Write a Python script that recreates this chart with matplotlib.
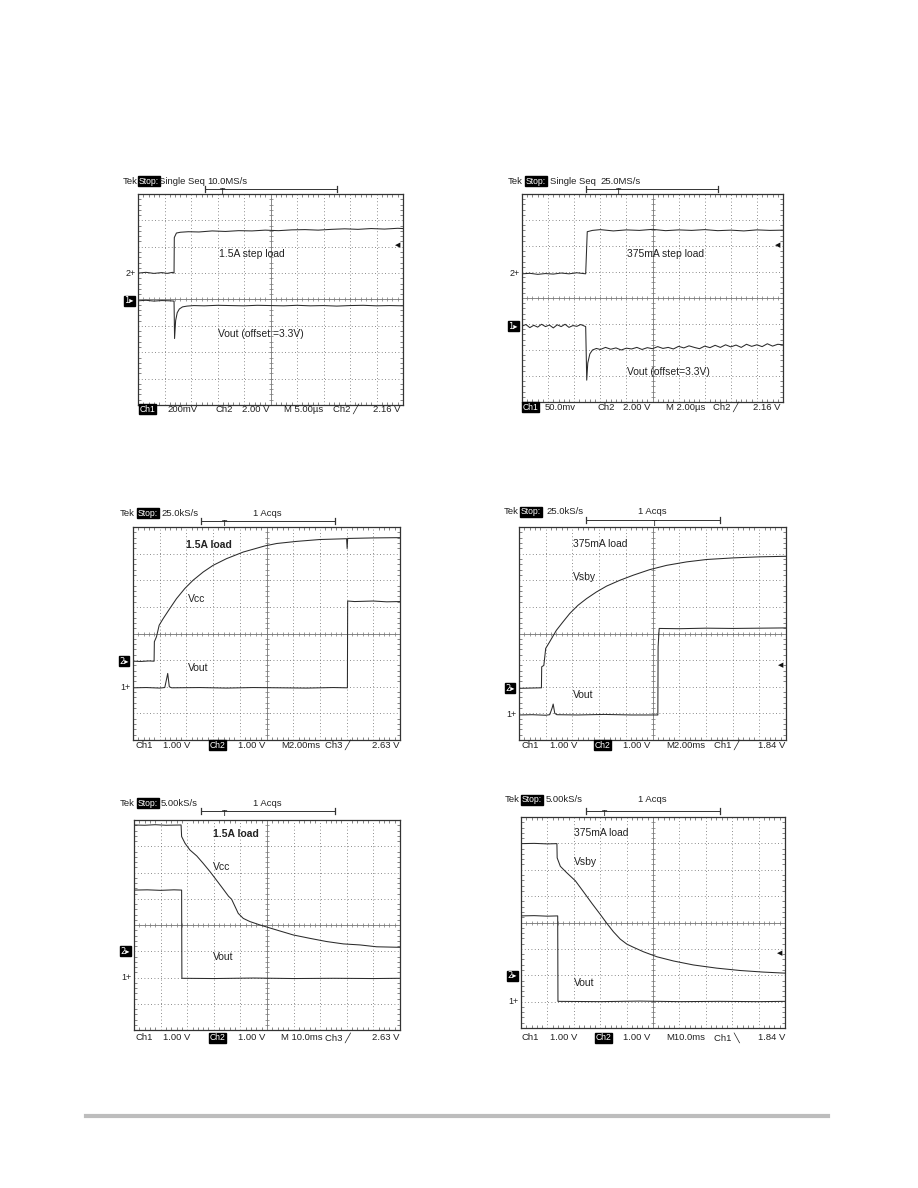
import numpy as np
import matplotlib.pyplot as plt

plt.rcParams['font.family'] = ['Liberation Sans', 'DejaVu Sans']

W, H = 918, 1188
TRACE = '#2b2b2b'

# ---- panel 1: 1.5A step load (divisions, x 0..10, y 0..8)
p1_step_t = [0, 0.3, 0.6, 0.9, 1.1, 1.3, 1.36, 1.37, 1.45, 1.6, 1.9, 2.3, 2.8, 3.3, 3.8, 4.3, 4.8, 5.3, 5.8, 6.3, 6.8, 7.3, 7.8, 8.3, 8.8, 9.3, 9.8, 10]
p1_step_v = [5.0, 5.03, 4.99, 5.02, 4.99, 5.03, 5.0, 6.35, 6.52, 6.55, 6.57, 6.56, 6.6, 6.58, 6.61, 6.6, 6.63, 6.61, 6.64, 6.65, 6.63, 6.66, 6.68, 6.66, 6.69, 6.67, 6.7, 6.69]
p1_vout_t = [0, 0.3, 0.6, 0.9, 1.2, 1.36, 1.38, 1.42, 1.48, 1.56, 1.68, 1.85, 2.1, 2.5, 3.0, 3.5, 4.0, 4.5, 5.0, 5.5, 6.0, 6.5, 7.0, 7.5, 8.0, 8.5, 9.0, 9.5, 10]
p1_vout_v = [3.95, 3.97, 3.94, 3.96, 3.95, 3.94, 2.52, 3.2, 3.5, 3.64, 3.72, 3.75, 3.77, 3.76, 3.78, 3.77, 3.76, 3.78, 3.77, 3.76, 3.78, 3.76, 3.77, 3.75, 3.77, 3.78, 3.76, 3.77, 3.76]

# ---- panel 2: 375mA step load
p2_step_t = [0, 0.3, 0.6, 0.9, 1.2, 1.5, 1.8, 2.1, 2.44, 2.5, 2.7, 3.0, 3.5, 4.0, 4.5, 5.0, 5.5, 6.0, 6.5, 7.0, 7.5, 8.0, 8.5, 9.0, 9.5, 10]
p2_step_v = [4.93, 4.95, 4.91, 4.94, 4.92, 4.96, 4.93, 4.97, 4.93, 6.55, 6.6, 6.63, 6.58, 6.62, 6.6, 6.64, 6.59, 6.62, 6.6, 6.63, 6.59, 6.61, 6.58, 6.62, 6.6, 6.61]
p2_vout_t = [0, 0.15, 0.3, 0.45, 0.6, 0.75, 0.9, 1.05, 1.2, 1.35, 1.5, 1.65, 1.8, 1.95, 2.1, 2.25, 2.44, 2.48, 2.52, 2.6, 2.7, 2.85, 3.0, 3.2, 3.4, 3.6, 3.8, 4.0, 4.2, 4.4, 4.6, 4.8, 5.0, 5.2, 5.4, 5.6, 5.8, 6.0, 6.2, 6.4, 6.6, 6.8, 7.0, 7.2, 7.4, 7.6, 7.8, 8.0, 8.2, 8.4, 8.6, 8.8, 9.0, 9.2, 9.4, 9.6, 9.8, 10]
p2_vout_v = [2.92, 2.98, 2.86, 2.95, 2.88, 2.99, 2.9, 2.96, 2.85, 2.97, 2.9, 2.99, 2.87, 2.94, 2.91, 2.98, 2.9, 0.84, 1.5, 1.85, 2.0, 2.06, 2.02, 2.1, 2.03, 2.08, 2.0, 2.07, 2.04, 2.1, 2.02, 2.09, 2.05, 2.13, 2.06, 2.1, 2.04, 2.14, 2.08, 2.16, 2.1, 2.05, 2.15, 2.09, 2.18, 2.1, 2.2, 2.12, 2.19, 2.1, 2.22, 2.14, 2.2, 2.13, 2.24, 2.15, 2.22, 2.2]

# ---- panel 3: turn-on, 1.5A load
p3_vcc_t = [0, 0.3, 0.6, 0.79, 0.8, 0.88, 0.98, 1.13, 1.38, 1.63, 1.94, 2.25, 2.63, 3.0, 3.5, 4.13, 4.94, 5.38, 6.13, 7.0, 8.0, 8.02, 8.04, 9.0, 10]
p3_vcc_v = [2.96, 2.95, 2.97, 2.96, 3.69, 3.88, 4.31, 4.56, 4.94, 5.31, 5.69, 6.0, 6.31, 6.56, 6.81, 7.06, 7.29, 7.38, 7.46, 7.53, 7.56, 7.19, 7.57, 7.59, 7.6]
p3_vout_t = [0, 0.5, 1.0, 1.19, 1.27, 1.3, 1.36, 1.45, 2.5, 3.5, 4.5, 5.5, 6.5, 7.5, 8.03, 8.04, 8.3, 9.0, 9.5, 10]
p3_vout_v = [1.96, 1.97, 1.95, 1.97, 2.35, 2.5, 2.0, 1.96, 1.97, 1.95, 1.97, 1.96, 1.95, 1.97, 1.96, 5.22, 5.2, 5.22, 5.19, 5.2]

# ---- panel 4: turn-on, 375mA load
p4_vsby_t = [0, 0.4, 0.84, 0.85, 0.93, 1.0, 1.15, 1.4, 1.65, 1.9, 2.21, 2.53, 2.9, 3.28, 3.78, 4.28, 4.9, 5.53, 6.28, 7.03, 8.03, 9.03, 10]
p4_vsby_v = [1.94, 1.95, 1.96, 2.75, 2.8, 3.44, 3.69, 4.12, 4.44, 4.75, 5.06, 5.31, 5.56, 5.78, 6.0, 6.19, 6.4, 6.56, 6.69, 6.78, 6.84, 6.88, 6.9]
p4_vout_t = [0, 0.5, 1.0, 1.15, 1.24, 1.28, 1.34, 1.42, 2.2, 3.2, 4.2, 5.2, 5.21, 5.25, 6.0, 7.0, 8.0, 9.0, 10]
p4_vout_v = [0.94, 0.95, 0.93, 0.95, 1.2, 1.35, 1.0, 0.95, 0.94, 0.96, 0.94, 0.94, 3.5, 4.19, 4.18, 4.2, 4.19, 4.2, 4.21]

# ---- panel 5: turn-off, 1.5A load
p5_vcc_t = [0, 0.4, 0.8, 1.2, 1.77, 1.79, 1.92, 2.1, 2.36, 2.6, 2.86, 3.1, 3.36, 3.55, 3.67, 3.8, 3.92, 4.11, 4.36, 4.74, 5.36, 5.99, 6.62, 7.24, 7.87, 8.5, 9.12, 10]
p5_vcc_v = [7.81, 7.8, 7.82, 7.8, 7.81, 7.37, 7.11, 6.86, 6.63, 6.35, 6.03, 5.71, 5.36, 5.1, 4.98, 4.7, 4.44, 4.25, 4.13, 4.0, 3.81, 3.62, 3.49, 3.37, 3.28, 3.24, 3.17, 3.15]
p5_vout_t = [0, 0.5, 1.0, 1.5, 1.79, 1.8, 3.0, 4.5, 6.0, 7.5, 9.0, 10]
p5_vout_v = [5.33, 5.34, 5.32, 5.34, 5.33, 1.97, 1.96, 1.98, 1.96, 1.97, 1.96, 1.97]

# ---- panel 6: turn-off, 375mA load
p6_vsby_t = [0, 0.5, 1.0, 1.36, 1.37, 1.49, 1.74, 2.06, 2.37, 2.69, 3.0, 3.25, 3.5, 3.76, 4.01, 4.26, 4.64, 5.15, 5.78, 6.53, 7.41, 8.3, 9.18, 10]
p6_vsby_v = [6.99, 7.0, 6.98, 6.99, 6.45, 6.13, 5.88, 5.58, 5.16, 4.72, 4.31, 3.97, 3.65, 3.37, 3.18, 3.06, 2.89, 2.7, 2.54, 2.39, 2.27, 2.18, 2.12, 2.08]
p6_vout_t = [0, 0.5, 1.0, 1.39, 1.4, 3.0, 4.5, 6.0, 7.5, 9.0, 10]
p6_vout_v = [4.25, 4.26, 4.24, 4.25, 1.01, 1.0, 1.02, 1.0, 1.01, 1.0, 1.01]


def fx(x):
    return x / W


def fy(y):
    return 1 - y / H


def put(fig, x, y, s, inv=False, size=6.8, ha='left'):
    if inv:
        fig.text(fx(x + 1), fy(y), s, fontsize=size - 0.6, color='white', ha=ha, va='center',
                 bbox=dict(boxstyle='square,pad=0.06', fc='black', ec='black'))
    else:
        fig.text(fx(x), fy(y), s, fontsize=size, color='#222', ha=ha, va='center')


def draw_scope(fig, box, traces, notes, marks, trig=None):
    x0, y0, x1, y1 = box
    ax = fig.add_axes([fx(x0), fy(y1), (x1 - x0) / W, (y1 - y0) / H])
    ax.set_xlim(0, 10)
    ax.set_ylim(0, 8)
    ax.set_xticks(range(11))
    ax.set_yticks(range(9))
    ax.set_xticks(np.arange(0, 10.01, 0.2), minor=True)
    ax.set_yticks(np.arange(0, 8.01, 0.2), minor=True)
    ax.tick_params(which='both', direction='in', top=True, right=True,
                   labelbottom=False, labelleft=False, color='#555')
    ax.tick_params(which='major', length=0)
    ax.tick_params(which='minor', length=2, width=0.5)
    ax.grid(True, which='major', ls=(0, (1, 3)), color='#666', lw=0.6)
    ax.axhline(4, color='#888', lw=0.7)
    ax.axvline(5, color='#888', lw=0.7)
    ax.plot(np.arange(0, 10.01, 0.2), np.full(51, 4.0), ls='none', marker='|', ms=3, mew=0.5, color='#777')
    ax.plot(np.full(41, 5.0), np.arange(0, 8.01, 0.2), ls='none', marker='_', ms=3, mew=0.5, color='#777')
    for sp in ax.spines.values():
        sp.set_color('#333')
        sp.set_linewidth(0.9)
    for t, v in traces:
        ax.plot(t, v, color=TRACE, lw=0.75)
    for xx, yy, s, bold in notes:
        ax.text(xx, yy, s, fontsize=7.5, color='#222', va='center',
                fontweight='bold' if bold else 'normal')
    tr = ax.get_yaxis_transform()
    for yy, s, inv in marks:
        if inv:
            ax.text(-0.015, yy, s, transform=tr, fontsize=6, color='white', ha='right', va='center',
                    family=['DejaVu Sans'],
                    bbox=dict(boxstyle='square,pad=0.06', fc='black', ec='black'))
        else:
            ax.text(-0.01, yy, s, transform=tr, fontsize=6.5, color='#222', ha='right', va='center')
    if trig is not None:
        ax.text(0.99, trig, '\u25c0', transform=tr, fontsize=5, color='#111', ha='right', va='center',
                family=['DejaVu Sans'])
    return ax


def header(fig, y, items, br):
    for x, s, inv in items:
        put(fig, x, y, s, inv)
    bx0, bx1, by, tx = br
    fig.add_artist(plt.Line2D([fx(bx0), fx(bx1)], [fy(by), fy(by)], color='#333', lw=0.7))
    for bx in (bx0, bx1):
        fig.add_artist(plt.Line2D([fx(bx), fx(bx)], [fy(by - 3), fy(by + 3)], color='#333', lw=0.9))
    put(fig, tx, by + 3, 'T', size=6.3, ha='center')


def footer(fig, y, items):
    for x, s, inv in items:
        put(fig, x, y, s, inv)


fig = plt.figure(figsize=(9.18, 11.88), dpi=100)

# top left
draw_scope(fig, (138, 194, 403, 405),
           [(p1_step_t, p1_step_v), (p1_vout_t, p1_vout_v)],
           [(3.06, 5.72, '1.5A step load', False), (3.0, 2.71, 'Vout (offset =3.3V)', False)],
           [(5.0, '2+', False), (3.95, '1\u25b8', True)], trig=6.06)
header(fig, 181, [(123, 'Tek', False), (138, 'Stop:', True), (159, 'Single Seq', False), (207, '10.0MS/s', False)],
       (205, 337, 189, 223))
footer(fig, 409, [(139, 'Ch1', True), (167, '200mV', False), (215, 'Ch2', False), (242, '2.00 V', False),
                  (284, 'M 5.00\u00b5s', False), (333, 'Ch2 \u2571', False), (373, '2.16 V', False)])

# top right
draw_scope(fig, (522, 194, 783, 402),
           [(p2_step_t, p2_step_v), (p2_vout_t, p2_vout_v)],
           [(4.02, 5.69, '375mA step load', False), (4.02, 1.16, 'Vout (offset=3.3V)', False)],
           [(4.93, '2+', False), (2.92, '1\u25b8', True)], trig=6.04)
header(fig, 181, [(508, 'Tek', False), (525, 'Stop:', True), (550, 'Single Seq', False), (600, '25.0MS/s', False)],
       (586, 718, 189, 618))
footer(fig, 407, [(522, 'Ch1', True), (545, '50.0mv', False), (597, 'Ch2', False), (623, '2.00 V', False),
                  (666, 'M 2.00\u00b5s', False), (713, 'Ch2 \u2571', False), (753, '2.16 V', False)])

# middle left
draw_scope(fig, (133, 527, 400, 740),
           [(p3_vcc_t, p3_vcc_v), (p3_vout_t, p3_vout_v)],
           [(2.0, 7.31, '1.5A load', True), (2.06, 5.31, 'Vcc', False), (2.06, 2.69, 'Vout', False)],
           [(2.96, '2\u25b8', True), (1.96, '1+', False)])
header(fig, 513, [(120, 'Tek', False), (137, 'Stop:', True), (161, '25.0kS/s', False), (253, '1 Acqs', False)],
       (201, 335, 521, 224))
footer(fig, 745, [(135, 'Ch1', False), (163, '1.00 V', False), (209, 'Ch2', True), (238, '1.00 V', False),
                  (281, 'M2.00ms', False), (325, 'Ch3 \u2571', False), (372, '2.63 V', False)])

# middle right
draw_scope(fig, (519, 527, 786, 740),
           [(p4_vsby_t, p4_vsby_v), (p4_vout_t, p4_vout_v)],
           [(2.03, 7.375, '375mA load', False), (2.03, 6.125, 'Vsby', False), (2.03, 1.69, 'Vout', False)],
           [(1.94, '2\u25b8', True), (0.94, '1+', False)], trig=2.81)
header(fig, 512, [(504, 'Tek', False), (520, 'Stop:', True), (546, '25.0kS/s', False), (638, '1 Acqs', False)],
       (586, 720, 520, 654))
footer(fig, 745, [(521, 'Ch1', False), (550, '1.00 V', False), (594, 'Ch2', True), (623, '1.00 V', False),
                  (666, 'M2.00ms', False), (714, 'Ch1 \u2571', False), (758, '1.84 V', False)])

# bottom left
draw_scope(fig, (134, 820, 400, 1030),
           [(p5_vcc_t, p5_vcc_v), (p5_vout_t, p5_vout_v)],
           [(2.98, 7.45, '1.5A load', True), (2.96, 6.2, 'Vcc', False), (2.96, 2.8, 'Vout', False)],
           [(3.0, '2\u25b8', True), (2.0, '1+', False)])
header(fig, 803, [(120, 'Tek', False), (137, 'Stop:', True), (161, '5.00kS/s', False), (253, '1 Acqs', False)],
       (201, 335, 811, 224))
footer(fig, 1038, [(136, 'Ch1', False), (163, '1.00 V', False), (209, 'Ch2', True), (238, '1.00 V', False),
                   (281, 'M 10.0ms', False), (325, 'Ch3 \u2571', False), (372, '2.63 V', False)])

# bottom right
draw_scope(fig, (521, 817, 785, 1028),
           [(p6_vsby_t, p6_vsby_v), (p6_vout_t, p6_vout_v)],
           [(1.99, 7.4, '375mA load', False), (1.99, 6.3, 'Vsby', False), (1.99, 1.7, 'Vout', False)],
           [(1.98, '2\u25b8', True), (1.0, '1+', False)], trig=2.84)
header(fig, 800, [(505, 'Tek', False), (521, 'Stop:', True), (546, '5.00kS/s', False), (638, '1 Acqs', False)],
       (586, 720, 811, 605))
footer(fig, 1038, [(522, 'Ch1', False), (550, '1.00 V', False), (595, 'Ch2', True), (623, '1.00 V', False),
                   (666, 'M10.0ms', False), (714, 'Ch1 \u2572', False), (758, '1.84 V', False)])

# page rule at the bottom
fig.add_artist(plt.Line2D([fx(86), fx(828)], [fy(1116), fy(1116)], color='#bdbdbd', lw=3))

fig.savefig('out.png', dpi=100)
